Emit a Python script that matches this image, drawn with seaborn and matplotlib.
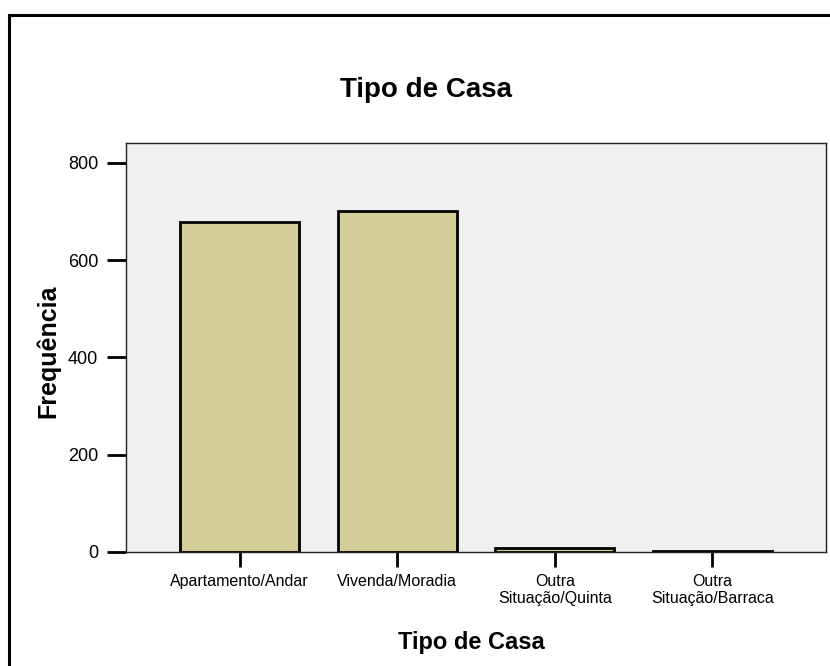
import matplotlib
matplotlib.use("Agg")
import matplotlib.pyplot as plt
import matplotlib.patches as mpatches
import seaborn as sns
import pandas as pd

# data
categorias = ["Apartamento/Andar", "Vivenda/Moradia",
              "Outra\nSituação/Quinta", "Outra\nSituação/Barraca"]
frequencias = [679, 702, 8, 2]
y_ticks = [0, 200, 400, 600, 800]

sns.set_theme(style="white")
plt.rcParams['font.family'] = ['Liberation Sans', 'DejaVu Sans']
plt.rcParams['text.color'] = 'black'
plt.rcParams['xtick.color'] = 'black'
plt.rcParams['ytick.color'] = 'black'
plt.rcParams['xtick.labelcolor'] = 'black'
plt.rcParams['ytick.labelcolor'] = 'black'

df = pd.DataFrame({"Tipo de Casa": categorias, "Frequência": frequencias})

W, H = 830, 666
fig = plt.figure(figsize=(W / 100, H / 100), dpi=100)
ax = fig.add_axes([126 / W, 1 - 552 / H, 700 / W, 409 / H])
ax.set_facecolor("#F0F0F0")

sns.barplot(data=df, x="Tipo de Casa", y="Frequência", color="#D3CE98",
            saturation=1, width=0.755, edgecolor="black", linewidth=2, ax=ax)

ax.set_xlim(-0.72, 3.72)
ax.set_ylim(0, 841)
ax.set_yticks(y_ticks)
ax.set_xlabel("")
ax.set_ylabel("")

for s in ax.spines.values():
    s.set_color("#222222")
    s.set_linewidth(1)

ax.tick_params(axis="y", direction="out", length=14, width=2, pad=6,
               labelsize=13, left=True)
ax.tick_params(axis="x", direction="out", length=11, width=2, pad=5,
               labelsize=11.5, bottom=True)
for t in ax.get_xticklabels():
    t.set_linespacing(1.15)

# titles placed on the figure
fig.text(426 / W, 1 - 97 / H, "Tipo de Casa", fontsize=20, fontweight="bold",
         ha="center", va="baseline")
fig.text(471 / W, 1 - 649 / H, "Tipo de Casa", fontsize=17, fontweight="bold",
         ha="center", va="baseline")
fig.text(55 / W, 1 - 351 / H, "Frequência", fontsize=18, fontweight="bold",
         rotation=90, rotation_mode="anchor", ha="center", va="baseline")

# outer frame (only top and left edges visible)
frame = mpatches.Rectangle((8.5 / W, -0.1), 1.2, 1.1 - 15 / H,
                           transform=fig.transFigure, fill=False,
                           edgecolor="black", linewidth=2.2, clip_on=False)
fig.patches.append(frame)

fig.savefig("out.png", dpi=100)
